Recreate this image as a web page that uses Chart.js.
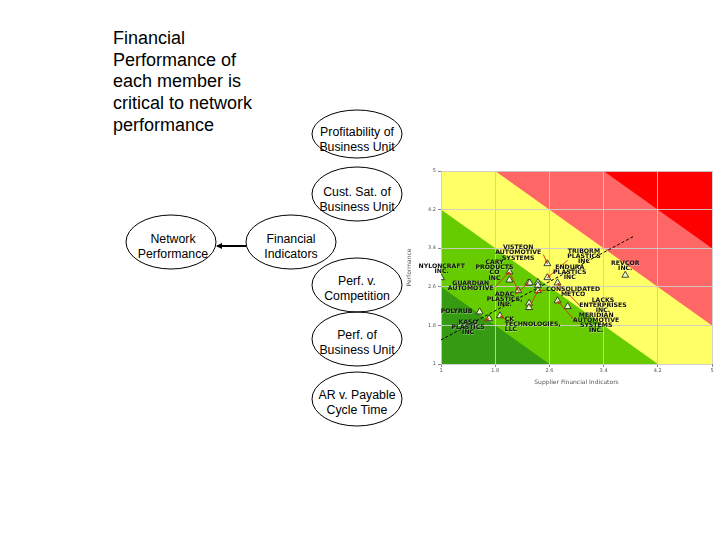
<!DOCTYPE html>
<html>
<head>
<meta charset="utf-8">
<script src="https://cdn.jsdelivr.net/npm/chart.js@4.4.0/dist/chart.umd.min.js"></script>
<style>
  html, body { margin: 0; padding: 0; background: #fff; }
  .page { position: relative; width: 720px; height: 540px; overflow: hidden; background: #fff; font-family: 'Liberation Sans', Arial, sans-serif; }
  .headline { position: absolute; left: 113px; top: 28px; width: 160px; font-size: 18px; line-height: 21.7px; color: #000; white-space: nowrap; }
  svg.tree { position: absolute; left: 0; top: 0; }
  svg.tree text { font-family: 'Liberation Sans', Arial, sans-serif; font-size: 12.3px; fill: #000; text-anchor: middle; }
  #c { position: absolute; left: 400px; top: 160px; }
</style>
</head>
<body>
<div class="page">
  <div class="headline">Financial<br>Performance of<br>each member is<br>critical to network<br>performance</div>

  <svg class="tree" width="720" height="540">
    <defs>
      <marker id="head" markerWidth="6" markerHeight="6" refX="5" refY="3" orient="auto" markerUnits="userSpaceOnUse">
        <path d="M0,0 L6,3 L0,6 z" fill="#000"/>
      </marker>
    </defs>
    <g fill="none" stroke="#000" stroke-width="1">
      <ellipse cx="357" cy="134" rx="45" ry="24"/>
      <ellipse cx="357" cy="194" rx="45" ry="27"/>
      <ellipse cx="171" cy="242" rx="45" ry="27"/>
      <ellipse cx="291" cy="242" rx="45" ry="27"/>
      <ellipse cx="357" cy="285" rx="45" ry="27"/>
      <ellipse cx="357" cy="339" rx="45" ry="27"/>
      <ellipse cx="357" cy="399" rx="45" ry="27"/>
      <line x1="246" y1="246" x2="217" y2="246" stroke-width="2" marker-end="url(#head)"/>
    </g>
    <text x="357" y="136">Profitability of</text>
    <text x="357" y="151">Business Unit</text>
    <text x="357" y="196">Cust. Sat. of</text>
    <text x="357" y="211">Business Unit</text>
    <text x="173" y="243">Network</text>
    <text x="173" y="258">Performance</text>
    <text x="291" y="243">Financial</text>
    <text x="291" y="258">Indicators</text>
    <text x="357" y="285">Perf. v.</text>
    <text x="357" y="300">Competition</text>
    <text x="357" y="339">Perf. of</text>
    <text x="357" y="354">Business Unit</text>
    <text x="357" y="399">AR v. Payable</text>
    <text x="357" y="414">Cycle Time</text>
  </svg>

  <canvas id="c" width="320" height="230"></canvas>
</div>

<script>
/* ── Axis ticks ─────────────────────────────────────────────── */
const tickValues = [1, 1.8, 2.6, 3.4, 4.2, 5];

/* ── Zones: x + y below each limit, lowest first ────────────── */
const zoneLimits = [3.6, 5.2, 6.8, 8.4];
const zoneColors = ['#369a12', '#66cc00', '#ffff66', '#ff6666', '#ff0000'];

/* ── Suppliers (financial indicators vs performance) ────────── */
const pointX = [1.00, 2.01, 2.01, 2.14, 2.29, 2.31, 2.43, 2.43, 2.43, 2.30, 2.30, 2.57, 2.57, 2.72, 2.72, 2.87, 3.72, 1.57, 1.71, 1.87];
const pointY = [2.79, 2.91, 2.74, 2.52, 2.68, 2.68, 2.69, 2.63, 2.52, 2.26, 2.17, 3.08, 2.79, 2.68, 2.31, 2.19, 2.84, 2.08, 1.94, 2.00];

/* ── Trend line ─────────────────────────────────────────────── */
const trendX = [1.0, 3.85];
const trendY = [1.5, 3.65];

/* ── Supplier name labels ───────────────────────────────────── */
const labelText = [
  'NYLONCRAFT|INC.', 'CARY|PRODUCTS|CO|INC', 'GUARDIAN|AUTOMOTIVE', 'ADAC|PLASTICS,|INC.',
  'VISTEON|AUTOMOTIVE|SYSTEMS', 'TRIBORM|PLASTICS|INC', 'ENDURA|PLASTICS|INC', 'CONSOLIDATED|METCO',
  'LACKS|ENTERPRISES|INC.', 'MERIDIAN|AUTOMOTIVE|SYSTEMS|INC.', 'REVCOR|INC.', 'POLYRUB',
  'KASO|PLASTICS|INC', 'CK|TECHNOLOGIES,|LLC',
];
const labelX = [1.01, 1.79, 1.44, 1.94, 2.14, 3.11, 2.90, 2.95, 3.39, 3.29, 3.72, 1.23, 1.40, 1.94];
const labelY = [3.03, 3.10, 2.68, 2.45, 3.41, 3.34, 3.00, 2.55, 2.32, 2.01, 3.08, 2.08, 1.86, 1.92];
const labelAlign = ['center', 'center', 'center', 'center', 'center', 'center', 'center', 'center',
  'center', 'center', 'center', 'center', 'center', 'left'];

/* ── Leader arrows: start (data) → supplier point index ─────── */
const leaderX = [2.51, 2.87, 1.80, 2.01, 2.09, 2.31, 2.56, 3.05, 3.00, 1.62, 1.96];
const leaderY = [3.27, 3.15, 2.60, 2.91, 2.43, 2.19, 2.53, 2.21, 1.86, 1.88, 1.91];
const leaderTo = [11, 12, 1, 3, 4, 8, 8, 13, 14, 18, 19];

Chart.defaults.font.family = "'DejaVu Sans', sans-serif";

/* ── zones plugin: diagonal colour bands under the grid ─────── */
const zonesPlugin = {
  id: 'zones',
  beforeDraw(chart) {
    const { ctx, chartArea: a, scales: { x, y } } = chart;
    ctx.save();
    ctx.beginPath();
    ctx.rect(a.left, a.top, a.right - a.left, a.bottom - a.top);
    ctx.clip();
    ctx.fillStyle = zoneColors[zoneColors.length - 1];
    ctx.fillRect(a.left, a.top, a.right - a.left, a.bottom - a.top);
    for (let i = zoneLimits.length - 1; i >= 0; i--) {
      const t = zoneLimits[i];
      ctx.fillStyle = zoneColors[i];
      ctx.beginPath();
      ctx.moveTo(x.getPixelForValue(x.min), y.getPixelForValue(y.min));
      ctx.lineTo(x.getPixelForValue(t - y.min), y.getPixelForValue(y.min));
      ctx.lineTo(x.getPixelForValue(x.min), y.getPixelForValue(t - x.min));
      ctx.closePath();
      ctx.fill();
    }
    ctx.restore();
  },
};

/* ── names plugin: leader arrows + supplier names ───────────── */
const namesPlugin = {
  id: 'names',
  afterDatasetsDraw(chart) {
    const { ctx, scales: { x, y } } = chart;
    ctx.save();
    ctx.strokeStyle = '#c8340f';
    ctx.fillStyle = '#c8340f';
    ctx.lineWidth = 0.9;
    leaderTo.forEach((p, i) => {
      const x1 = x.getPixelForValue(leaderX[i]), y1 = y.getPixelForValue(leaderY[i]);
      const x2 = x.getPixelForValue(pointX[p]), y2 = y.getPixelForValue(pointY[p]);
      ctx.beginPath(); ctx.moveTo(x1, y1); ctx.lineTo(x2, y2); ctx.stroke();
      const ang = Math.atan2(y2 - y1, x2 - x1);
      ctx.beginPath();
      ctx.moveTo(x2, y2);
      ctx.lineTo(x2 - 3.5 * Math.cos(ang - 0.45), y2 - 3.5 * Math.sin(ang - 0.45));
      ctx.lineTo(x2 - 3.5 * Math.cos(ang + 0.45), y2 - 3.5 * Math.sin(ang + 0.45));
      ctx.closePath(); ctx.fill();
    });

    ctx.font = "bold 6.2px 'DejaVu Sans', sans-serif";
    ctx.textBaseline = 'middle';
    labelText.forEach((txt, i) => {
      const px = x.getPixelForValue(labelX[i]), py = y.getPixelForValue(labelY[i]);
      ctx.textAlign = labelAlign[i];
      txt.split('|').forEach((line, k) => {
        ctx.fillStyle = 'rgba(255,255,255,0.35)';
        ctx.fillText(line, px + 0.5, py + k * 5.1 + 0.5);
        ctx.fillStyle = '#111';
        ctx.fillText(line, px, py + k * 5.1);
      });
    });
    ctx.restore();
  },
};

const axisCommon = {
  type: 'linear',
  min: 1,
  max: 5,
  afterBuildTicks: s => { s.ticks = tickValues.map(v => ({ value: v })); },
  grid: { color: 'rgba(205,205,205,0.9)', lineWidth: 1, tickLength: 3, tickColor: '#888' },
  border: { display: false },
};

new Chart(document.getElementById('c'), {
  type: 'scatter',
  data: {
    datasets: [
      {
        type: 'line',
        data: trendX.map((v, i) => ({ x: v, y: trendY[i] })),
        borderColor: '#000',
        borderWidth: 1,
        borderDash: [3, 2],
        pointRadius: 0,
        fill: false,
        order: 2,
      },
      {
        data: pointX.map((v, i) => ({ x: v, y: pointY[i] })),
        pointStyle: 'triangle',
        pointRadius: 4,
        backgroundColor: '#eaffcc',
        borderColor: '#1a1a1a',
        borderWidth: 0.8,
        order: 1,
      },
    ],
  },
  options: {
    responsive: false,
    animation: false,
    devicePixelRatio: 1,
    layout: { padding: { top: 11, right: 8, left: 0, bottom: 0 } },
    plugins: { legend: { display: false }, tooltip: { enabled: false } },
    scales: {
      x: {
        ...axisCommon,
        afterFit: s => { s.height = 26; },
        ticks: { font: { size: 5 }, color: '#555', padding: 1, callback: v => String(v) },
        title: { display: true, text: 'Supplier Financial Indicators', color: '#555', font: { size: 6 }, padding: { top: 0, bottom: 4 } },
      },
      y: {
        ...axisCommon,
        afterFit: s => { s.width = 41; },
        ticks: { font: { size: 5 }, color: '#555', padding: 2, callback: v => String(v) },
        title: { display: true, text: 'Performance', color: '#555', font: { size: 6 }, padding: { top: 6, bottom: 0 } },
      },
    },
  },
  plugins: [zonesPlugin, namesPlugin],
});
</script>
</body>
</html>
